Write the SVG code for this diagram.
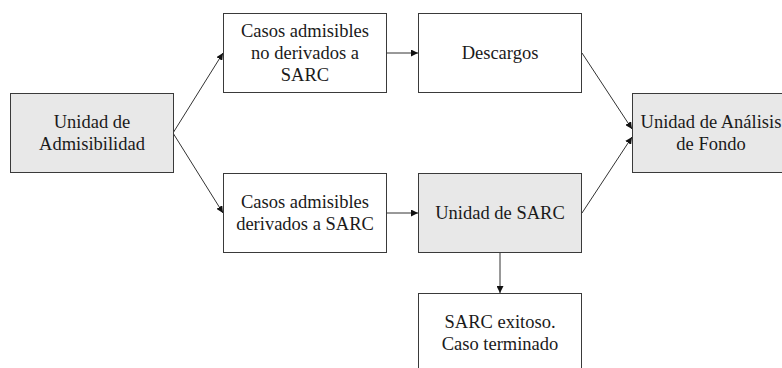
<svg xmlns="http://www.w3.org/2000/svg" width="782" height="368" viewBox="0 0 782 368">
<style>
.box{stroke:#3a3a3a;stroke-width:1;fill:#ffffff}
.gray{fill:#e8e8e8}
.t{font-size:18.5px;fill:#1a1a1a;text-anchor:middle}
.c{stroke:#333;stroke-width:1;fill:none;marker-end:url(#ah)}
</style>
<defs>
<marker id="ah" viewBox="0 0 10 10" refX="10" refY="5" markerWidth="7" markerHeight="7" orient="auto" markerUnits="userSpaceOnUse">
<path d="M0,0 L10,5 L0,10 z" fill="#111"/>
</marker>
</defs>
<rect width="782" height="368" fill="#ffffff"/>
<g id="connectors">
<line class="c" x1="173" y1="133" x2="223" y2="53"/>
<line class="c" x1="173" y1="133" x2="223" y2="213"/>
<line class="c" x1="386" y1="53" x2="418" y2="53"/>
<line class="c" x1="386" y1="213" x2="418" y2="213"/>
<line class="c" x1="582" y1="53" x2="632" y2="129"/>
<line class="c" x1="582" y1="213" x2="632" y2="137"/>
<line class="c" x1="500" y1="253" x2="500" y2="293"/>
</g>
<g font-family="Liberation Serif, Times New Roman, serif">
<g id="admisibilidad">
<rect class="box gray" x="10.5" y="93.5" width="163" height="79"/>
<text class="t" x="92" y="128">Unidad de</text>
<text class="t" x="92" y="150">Admisibilidad</text>
</g>
<g id="no-derivados">
<rect class="box" x="223.5" y="13.5" width="163" height="79"/>
<text class="t" x="305" y="37">Casos admisibles</text>
<text class="t" x="305" y="59">no derivados a</text>
<text class="t" x="305" y="81">SARC</text>
</g>
<g id="descargos">
<rect class="box" x="418.5" y="13.5" width="163" height="79"/>
<text class="t" x="500" y="59">Descargos</text>
</g>
<g id="derivados">
<rect class="box" x="223.5" y="173.5" width="163" height="79"/>
<text class="t" x="305" y="208">Casos admisibles</text>
<text class="t" x="305" y="230">derivados a SARC</text>
</g>
<g id="sarc">
<rect class="box gray" x="418.5" y="173.5" width="163" height="79"/>
<text class="t" x="500" y="219">Unidad de SARC</text>
</g>
<g id="exitoso">
<rect class="box" x="418.5" y="293.5" width="163" height="80"/>
<text class="t" x="500" y="328">SARC exitoso.</text>
<text class="t" x="500" y="350">Caso terminado</text>
</g>
<g id="analisis">
<rect class="box gray" x="632.5" y="93.5" width="163" height="79"/>
<text class="t" x="711" y="128">Unidad de Análisis</text>
<text class="t" x="711" y="150">de Fondo</text>
</g>
</g>
</svg>
